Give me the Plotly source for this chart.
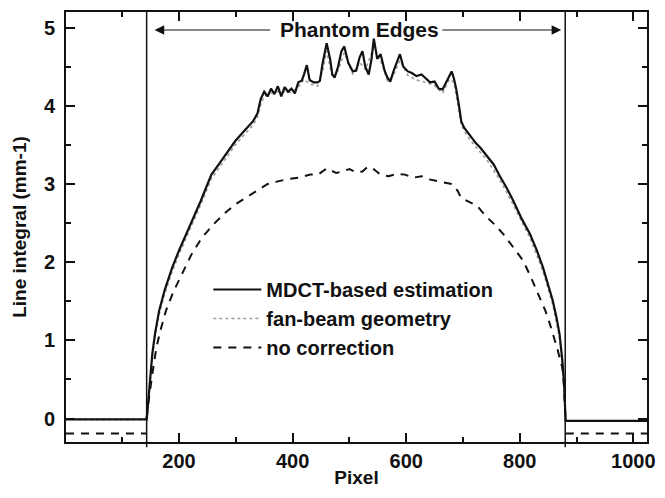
import plotly.graph_objects as go

# ---- data ----
mdct_x = [1, 143, 145, 148, 153, 158, 165, 175, 188, 200, 212, 223, 238, 257, 270, 285, 299, 315, 330, 338,
          344, 350, 356, 362, 368, 374, 380, 386, 392, 398, 404, 410, 416, 420, 425, 430, 437, 444, 448, 453,
          460, 466, 470, 474, 480, 486, 491, 498, 506, 512, 518, 523, 528, 534, 539, 543, 549, 555, 562, 567,
          572, 578, 584, 589, 595, 603, 610, 618, 627, 634, 642, 650, 657, 664, 670, 676, 680, 684, 688, 693,
          697, 702, 707, 715, 723, 731, 742, 754, 765, 777, 789, 803, 818, 830, 841, 850, 858, 865, 870, 875,
          878, 880, 881, 1024]
mdct_y = [-0.01, -0.01, 0.15, 0.40, 0.83, 1.10, 1.38, 1.65, 1.93, 2.15, 2.36, 2.53, 2.78, 3.12, 3.25, 3.40, 3.55, 3.68, 3.80, 3.90,
          4.09, 4.18, 4.12, 4.22, 4.15, 4.25, 4.12, 4.24, 4.18, 4.22, 4.16, 4.30, 4.32, 4.40, 4.52, 4.33, 4.30, 4.30, 4.32, 4.55,
          4.80, 4.60, 4.40, 4.36, 4.50, 4.70, 4.76, 4.55, 4.44, 4.45, 4.62, 4.70, 4.50, 4.40, 4.60, 4.86, 4.60, 4.66, 4.45, 4.36,
          4.31, 4.45, 4.58, 4.66, 4.50, 4.44, 4.42, 4.38, 4.40, 4.35, 4.30, 4.31, 4.22, 4.21, 4.30, 4.40, 4.44, 4.35, 4.22, 4.00,
          3.80, 3.72, 3.67, 3.60, 3.52, 3.46, 3.36, 3.25, 3.10, 2.95, 2.78, 2.56, 2.36, 2.15, 1.93, 1.72, 1.51, 1.28, 1.08, 0.74,
          0.45, 0.10, -0.03, -0.03]

fan_x = [1, 143, 145, 148, 153, 158, 165, 175, 188, 200, 212, 223, 238, 257, 270, 285, 299, 315, 330, 338,
         344, 350, 362, 374, 386, 398, 410, 420, 430, 444, 453, 460, 470, 480, 491, 506, 518, 528, 543, 555,
         567, 578, 589, 603, 618, 634, 650, 664, 676, 684, 693, 697, 707, 723, 742, 765, 789, 818, 841, 858,
         870, 878, 880, 881, 1024]
fan_y = [-0.01, -0.01, 0.12, 0.36, 0.78, 1.05, 1.33, 1.60, 1.88, 2.10, 2.31, 2.48, 2.73, 3.07, 3.20, 3.35, 3.50, 3.63, 3.75, 3.85,
         4.02, 4.12, 4.16, 4.18, 4.18, 4.17, 4.24, 4.34, 4.28, 4.25, 4.45, 4.70, 4.36, 4.45, 4.68, 4.40, 4.56, 4.46, 4.75, 4.58,
         4.32, 4.40, 4.58, 4.39, 4.33, 4.30, 4.26, 4.16, 4.34, 4.30, 3.95, 3.75, 3.62, 3.47, 3.31, 3.05, 2.73, 2.31, 1.88, 1.46,
         1.03, 0.42, 0.08, -0.03, -0.03]

nocorr_x = [1, 143, None, 143, 146, 153, 160, 167, 177, 190, 205, 222, 240, 260, 281, 299, 321, 340, 356, 372,
            390, 410, 431, 445, 460, 477, 490, 500, 512, 523, 532, 541, 555, 569, 584, 598, 612, 627, 640, 650,
            665, 681, 690, 697, 712, 725, 740, 756, 771, 788, 806, 820, 835, 845, 853, 861, 867, 872, 875, 878,
            880, None, 881, 1024]
nocorr_y = [-0.19, -0.19, None, 0.0, 0.20, 0.57, 0.90, 1.12, 1.38, 1.62, 1.85, 2.10, 2.31, 2.48, 2.63, 2.74, 2.84, 2.93, 3.00, 3.03,
            3.06, 3.08, 3.12, 3.12, 3.20, 3.14, 3.17, 3.19, 3.15, 3.16, 3.22, 3.20, 3.12, 3.10, 3.13, 3.12, 3.08, 3.10, 3.06, 3.04,
            3.02, 3.00, 2.92, 2.82, 2.77, 2.72, 2.59, 2.48, 2.36, 2.20, 2.02, 1.80, 1.55, 1.38, 1.21, 1.02, 0.87, 0.72, 0.65, 0.40,
            0.05, None, -0.19, -0.19]

edge_left = 143
edge_right = 880
arrow_y = 4.97
label_x = 518
arrow_left_tail, arrow_left_tip = 363, 157
arrow_right_tail, arrow_right_tip = 661, 873

x_range = [1, 1024]
y_range = [-0.3, 5.2]

FONT = "Liberation Sans, Arial, sans-serif"
INK = "#111111"

fig = go.Figure()
fig.add_trace(go.Scatter(x=fan_x, y=fan_y, mode="lines", name="fan-beam geometry", legendrank=2,
                         line=dict(color="#9c9c9c", width=1.6, dash="dot")))
fig.add_trace(go.Scatter(x=mdct_x, y=mdct_y, mode="lines", name="MDCT-based estimation", legendrank=1,
                         line=dict(color=INK, width=2.2)))
fig.add_trace(go.Scatter(x=nocorr_x, y=nocorr_y, mode="lines", name="no correction", legendrank=3,
                         line=dict(color=INK, width=2, dash="8px,7px")))

for xe in (edge_left, edge_right):
    fig.add_shape(type="line", xref="x", yref="paper", x0=xe, x1=xe, y0=-0.012, y1=1,
                  line=dict(color=INK, width=1.5))

fig.add_annotation(x=label_x, y=arrow_y, text="Phantom Edges", showarrow=False,
                   font=dict(size=21, color=INK, family=FONT, weight="bold"))
for tail, tip in ((arrow_left_tail, arrow_left_tip), (arrow_right_tail, arrow_right_tip)):
    fig.add_annotation(x=tip, y=arrow_y, ax=tail, ay=arrow_y, xref="x", yref="y", axref="x", ayref="y",
                       text="", showarrow=True, arrowhead=2, arrowsize=1.6, arrowwidth=1.2, arrowcolor=INK)

axis_common = dict(showline=True, linecolor=INK, linewidth=2, mirror="allticks", ticks="inside",
                   tickcolor=INK, tickwidth=2, ticklen=9, showgrid=False, zeroline=False,
                   tickfont=dict(size=20, color=INK, family=FONT, weight="bold"))

fig.update_xaxes(range=x_range, tickvals=[200, 400, 600, 800, 1000],
                 minor=dict(dtick=100, tick0=0, ticks="inside", ticklen=5, tickwidth=2, tickcolor=INK),
                 title=dict(text="Pixel", font=dict(size=19, color=INK, family=FONT, weight="bold"), standoff=0),
                 **axis_common)
fig.update_yaxes(range=y_range, tickvals=[0, 1, 2, 3, 4, 5], ticklabelstandoff=5,
                 minor=dict(dtick=0.5, tick0=0, ticks="inside", ticklen=5, tickwidth=2, tickcolor=INK),
                 title=dict(text="Line integral (mm-1)", font=dict(size=19, color=INK, family=FONT, weight="bold"), standoff=12),
                 **axis_common)

fig.update_layout(
    width=665, height=498,
    margin=dict(l=66, r=10, t=10, b=56),
    paper_bgcolor="white", plot_bgcolor="white",
    font=dict(family=FONT, color=INK, size=19, weight="bold"),
    legend=dict(x=0.245, y=0.40, xanchor="left", yanchor="top", bgcolor="rgba(0,0,0,0)", itemwidth=48,
                font=dict(size=20, color=INK, family=FONT, weight="bold"), tracegroupgap=0),
    showlegend=True,
)

fig.write_html("out.html")
